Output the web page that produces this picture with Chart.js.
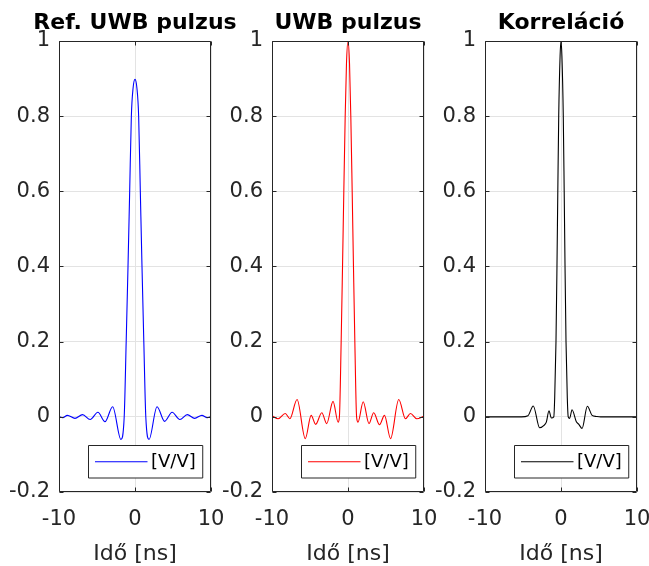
<!DOCTYPE html>
<html><head><meta charset="utf-8">
<script src="https://cdn.jsdelivr.net/npm/chart.js@4.4.1/dist/chart.umd.min.js"></script>
<style>
html,body{margin:0;padding:0;background:#fff;overflow:hidden;width:649px;height:566px;}
.p{position:absolute;top:0;width:270px;height:566px;}
</style></head><body>
<div class="p" style="left:0px"><canvas id="c0" width="270" height="566"></canvas></div>
<div class="p" style="left:213px"><canvas id="c1" width="270" height="566"></canvas></div>
<div class="p" style="left:426px"><canvas id="c2" width="270" height="566"></canvas></div>
<script>
const titles = ['Ref. UWB pulzus', 'UWB pulzus', 'Korreláció'];
const xLabel = 'Idő [ns]';
const legendLabel = '[V/V]';
const xTicks = [-10, 0, 10];
const yTicks = [-0.2, 0, 0.2, 0.4, 0.6, 0.8, 1];
const lineColors = ['#0000ff', '#ff0000', '#000000'];

// Ref. UWB pulzus
const refTime  = [-10, -9.5, -8.9, -7.9, -6.9, -5.9, -4.88, -3.95, -2.94, -1.85, -1.42, -1.16, -0.92, -0.70, -0.48, -0.25, 0, 0.25, 0.48, 0.70, 0.92, 1.16, 1.42, 1.85, 2.9, 3.9, 4.88, 5.9, 6.88, 7.85, 8.8, 9.5, 10];
const refValue = [0.001, -0.002, 0.004, -0.004, 0.006, -0.007, 0.012, -0.013, 0.027, -0.06, 0, 0.2, 0.4, 0.6, 0.8, 0.875, 0.898, 0.875, 0.8, 0.6, 0.4, 0.2, 0, -0.06, 0.027, -0.012, 0.012, -0.007, 0.006, -0.004, 0.004, -0.002, 0.001];

// UWB pulzus
const pulseTime  = [-10, -9.19, -8.26, -7.65, -6.7, -5.62, -4.85, -4.25, -3.45, -2.8, -1.97, -1.3, -1.13, -0.9, -0.72, -0.55, -0.37, -0.2, 0, 0.2, 0.37, 0.55, 0.72, 0.9, 1.13, 1.32, 2.0, 2.76, 3.38, 4.15, 4.8, 5.6, 6.68, 7.56, 8.22, 9.05, 10];
const pulseValue = [0.003, -0.005, 0.009, -0.005, 0.046, -0.058, 0.004, -0.02, 0.011, -0.018, 0.041, -0.014, 0, 0.2, 0.4, 0.6, 0.8, 0.94, 1.0, 0.94, 0.8, 0.6, 0.4, 0.2, 0, -0.014, 0.04, -0.018, 0.011, -0.021, 0.004, -0.058, 0.046, -0.005, 0.009, -0.005, 0.002];

// Korreláció
const corrTime  = [-10, -5.2, -4.35, -3.65, -2.81, -2.2, -1.93, -1.58, -1.27, -0.95, -0.83, -0.66, -0.53, -0.42, -0.3, -0.12, 0, 0.12, 0.3, 0.42, 0.53, 0.66, 0.83, 0.95, 1.14, 1.45, 2.02, 2.35, 2.77, 3.47, 4.09, 4.66, 5.2, 10];
const corrValue = [0, 0, 0.003, 0.029, -0.029, -0.022, -0.014, 0.016, -0.003, 0, 0.05, 0.2, 0.4, 0.6, 0.8, 0.96, 1.0, 0.96, 0.8, 0.6, 0.4, 0.2, 0.05, 0, -0.004, 0.019, -0.013, -0.02, -0.031, 0.028, 0.004, 0.001, 0, 0];

const series = [
  {time: refTime, value: refValue},
  {time: pulseTime, value: pulseValue},
  {time: corrTime, value: corrValue}
];

Chart.defaults.font.family = '"DejaVu Sans", sans-serif';
Chart.defaults.color = '#262626';

const AXIS_COLOR = '#262626';
const boxPlugin = {
  id: 'matlabBox',
  afterDraw(chart) {
    const {ctx, chartArea: a, scales} = chart;
    ctx.save();
    ctx.strokeStyle = AXIS_COLOR;
    ctx.lineWidth = 1;
    const L = Math.round(a.left) + 0.5, R = Math.round(a.right) - 0.5;
    const T = Math.round(a.top) + 0.5, B = Math.round(a.bottom) - 0.5;
    ctx.beginPath();
    ctx.rect(L, T, R - L, B - T);
    const tl = 4;
    scales.y.ticks.forEach(t => {
      const py = Math.round(scales.y.getPixelForValue(t.value)) + 0.5;
      ctx.moveTo(L, py); ctx.lineTo(L + tl, py);
      ctx.moveTo(R, py); ctx.lineTo(R - tl, py);
    });
    scales.x.ticks.forEach(t => {
      const px = Math.round(scales.x.getPixelForValue(t.value)) + 0.5;
      ctx.moveTo(px, B); ctx.lineTo(px, B - tl);
      ctx.moveTo(px, T); ctx.lineTo(px, T + tl);
    });
    ctx.stroke();

    // legend box
    const ds = chart.data.datasets[0];
    ctx.font = '18px "DejaVu Sans"';
    const tw = ctx.measureText(ds.label).width;
    const w = 6.5 + 52.5 + 3.5 + tw + 7;
    const h = 32.5;
    const x1 = Math.round(R - 8 - w) + 0.5;
    const y1 = Math.round(B - 14 - h) + 0.5;
    ctx.fillStyle = '#ffffff';
    ctx.fillRect(x1, y1, w, h);
    ctx.strokeStyle = AXIS_COLOR;
    ctx.beginPath();
    ctx.rect(x1, y1, w, h);
    ctx.stroke();
    const ym = y1 + h / 2;
    ctx.strokeStyle = ds.borderColor;
    ctx.lineWidth = ds.borderWidth;
    ctx.beginPath();
    ctx.moveTo(x1 + 6.5, ym); ctx.lineTo(x1 + 59, ym);
    ctx.stroke();
    ctx.fillStyle = '#000000';
    ctx.textBaseline = 'middle';
    ctx.textAlign = 'left';
    ctx.fillText(ds.label, x1 + 62.5, ym + 1);
    ctx.restore();
  }
};

series.forEach((s, i) => {
  const data = s.time.map((t, k) => ({x: t, y: s.value[k]}));
  new Chart(document.getElementById('c' + i), {
    type: 'line',
    data: {
      datasets: [{
        label: legendLabel,
        data: data,
        borderColor: lineColors[i],
        borderWidth: 1.1,
        pointRadius: 0,
        fill: false,
        cubicInterpolationMode: 'monotone'
      }]
    },
    options: {
      responsive: false,
      animation: false,
      devicePixelRatio: 1,
      events: [],
      layout: {padding: 0},
      plugins: {
        legend: {display: false},
        tooltip: {enabled: false},
        title: {
          display: true,
          text: titles[i],
          color: '#000000',
          font: {size: 22, weight: 'bold'},
          padding: {top: 10, bottom: 4.6}
        }
      },
      scales: {
        x: {
          type: 'linear',
          min: -10, max: 10,
          afterBuildTicks: sc => { sc.ticks = xTicks.map(v => ({value: v})); },
          afterFit: sc => { sc.height = 74; },
          grid: {color: '#e3e3e3', drawTicks: false, lineWidth: 1},
          border: {display: false},
          ticks: {font: {size: 21}, padding: 15, color: '#262626', maxRotation: 0, callback: v => String(v)},
          title: {display: true, text: xLabel, font: {size: 22}, color: '#262626', padding: {top: 0, bottom: -1}}
        },
        y: {
          type: 'linear',
          min: -0.2, max: 1,
          afterBuildTicks: sc => { sc.ticks = yTicks.map(v => ({value: v})); },
          afterFit: sc => { sc.width = 59; },
          grid: {color: '#e3e3e3', drawTicks: false, lineWidth: 1},
          border: {display: false},
          ticks: {font: {size: 21}, padding: 9, color: '#262626', callback: v => String(v)}
        },
        yRight: {
          type: 'linear',
          position: 'right',
          min: 0, max: 1,
          afterFit: sc => { sc.width = 59; },
          grid: {display: false, drawTicks: false},
          border: {display: false},
          ticks: {display: false}
        }
      }
    },
    plugins: [boxPlugin]
  });
});
</script>
</body></html>
